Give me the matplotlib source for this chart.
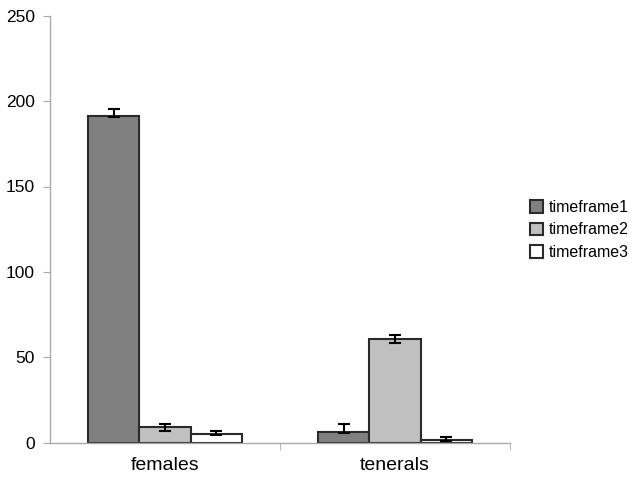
import matplotlib
matplotlib.use("Agg")
import matplotlib.pyplot as plt
import numpy as np

categories = ["females", "tenerals"]
series = ["timeframe1", "timeframe2", "timeframe3"]
values = {
    "timeframe1": [191, 6.5],
    "timeframe2": [9, 61],
    "timeframe3": [4.9, 1.5],
}
err_lower = {
    "timeframe1": [0.6, 1.0],
    "timeframe2": [2.3, 2.6],
    "timeframe3": [0.5, 0.3],
}
err_upper = {
    "timeframe1": [4.3, 4.5],
    "timeframe2": [2.0, 2.0],
    "timeframe3": [2.0, 1.7],
}
colors = ["#808080", "#c0c0c0", "#ffffff"]
yticks = [0, 50, 100, 150, 200, 250]

plt.rcParams['font.family'] = ['Liberation Sans', 'DejaVu Sans']

fig = plt.figure(figsize=(6.38, 4.8), dpi=100)
ax = fig.add_axes([50/638, 1-442.7/480, 460/638, (442.7-15.7)/480])

x = np.arange(len(categories))
w = 0.222
for i, s in enumerate(series):
    pos = x + (i - 1) * w
    ax.bar(pos, values[s], width=w, color=colors[i], edgecolor="#2a2a2a",
           linewidth=1.5, label=s, zorder=2)
    ax.errorbar(pos, values[s], yerr=[err_lower[s], err_upper[s]], fmt="none",
                ecolor="black", elinewidth=1.5, capsize=4.3, capthick=1.5, zorder=3)

ax.set_xlim(-0.5, 1.5)
ax.set_ylim(0, 250)
ax.set_yticks(yticks)
ax.set_xticks(x)
ax.set_xticklabels(categories, fontsize=14)
ax.set_xticks([0.5, 1.5], minor=True)
ax.tick_params(axis='x', which='major', length=0, pad=10)
ax.tick_params(axis='x', which='minor', length=5, color="#aaaaaa", direction='out')
ax.tick_params(axis='y', length=5, color="#aaaaaa", labelsize=12.5, pad=6)
for sp in ["top", "right"]:
    ax.spines[sp].set_visible(False)
for sp in ["left", "bottom"]:
    ax.spines[sp].set_color("#aaaaaa")
    ax.spines[sp].set_linewidth(1.0)

fig.legend(loc="center left", bbox_to_anchor=(516/638, 1-230/480), frameon=False,
           fontsize=11.5, handlelength=0.8, handleheight=0.85, handletextpad=0.35,
           labelspacing=0.45)

fig.savefig("out.png", dpi=100)
